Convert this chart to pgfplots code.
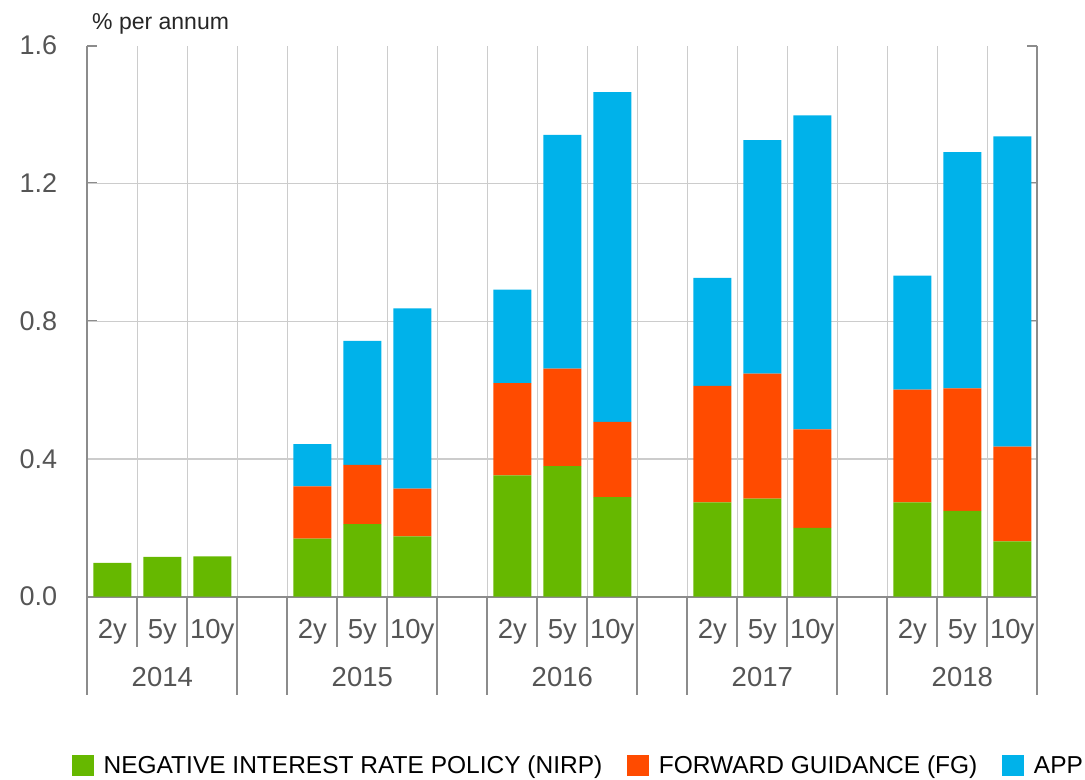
\documentclass[border=0pt]{standalone}
\usepackage{fontspec}
\setmainfont{Liberation Sans}
\usepackage{pgfplots}
\usepackage{pgfplotstable}
\pgfplotsset{compat=1.18}
\definecolor{nirp}{HTML}{66B800}
\definecolor{fg}{HTML}{FF4B00}
\definecolor{app}{HTML}{00B2EA}
\definecolor{axgray}{HTML}{8C8C8C}
\definecolor{gridgray}{HTML}{CCCCCC}
\definecolor{labgray}{HTML}{555555}

% x: slot position; nirp, fg, app: stacked contributions (% per annum)
\pgfplotstableread{
x  nirp  fg    app
0  0.098 0     0
1  0.116 0     0
2  0.117 0     0
4  0.169 0.151 0.123
5  0.211 0.172 0.360
6  0.175 0.139 0.523
8  0.352 0.268 0.272
9  0.379 0.283 0.679
10 0.289 0.219 0.957
12 0.274 0.338 0.314
13 0.285 0.363 0.678
14 0.200 0.286 0.912
16 0.274 0.327 0.331
17 0.249 0.356 0.686
18 0.161 0.275 0.901
}\data

\pgfplotsset{sqlegend/.style={legend image code/.code={\fill[##1] (0bp,-10.6bp) rectangle (21.6bp,10.6bp);}}}

\newcommand{\sep}[2]{\draw[axgray, line width=2bp] (axis cs:#1,0) -- ([yshift=-#2]axis cs:#1,0);}

\begin{document}
\begin{tikzpicture}
\useasboundingbox (0,0) rectangle (1085bp,780bp);
\begin{axis}[
  at={(87.3bp,183.3bp)}, anchor=south west,
  scale only axis, width=950bp, height=551bp,
  xmin=-0.5, xmax=18.5, ymin=0, ymax=1.6,
  enlargelimits=false, clip=false,
  axis line style={draw=none},
  ybar stacked, bar width=38bp,
  xtick={0,1,2,4,5,6,8,9,10,12,13,14,16,17,18},
  xticklabels={2y,5y,10y,2y,5y,10y,2y,5y,10y,2y,5y,10y,2y,5y,10y},
  xtick style={draw=none},
  x tick label style={font=\fontsize{27.5bp}{32bp}\selectfont, text=labgray, anchor=base, inner sep=0pt, yshift=-41.3bp},
  extra x ticks={-0.5,0.5,...,18.5},
  extra x tick labels={},
  extra x tick style={grid=major, major tick length=0pt},
  ytick={0,0.4,0.8,1.2,1.6},
  ytick pos=both,
  major tick length=10bp,
  ytick style={axgray, line width=2bp},
  yticklabel style={font=\fontsize{27bp}{32bp}\selectfont, text=labgray, anchor=east, inner sep=0pt, xshift=-30bp},
  /pgf/number format/.cd, fixed, fixed zerofill, precision=1, assume math mode=true, /pgfplots/.cd,
  extra y ticks={0.4,0.8,1.2},
  extra y tick labels={},
  extra y tick style={grid=major, major tick length=0pt},
  major grid style={gridgray, line width=1.3bp},
  legend columns=3,
  legend style={at={(axis description cs:-0.0161,-0.3063)}, anchor=west, draw=none, fill=none,
    inner sep=0pt, outer sep=0pt, column sep=10bp,
    font=\fontsize{24.5bp}{29bp}\selectfont,
    nodes={inner sep=0pt},
    /tikz/every even column/.append style={column sep=25bp}},
  legend cell align=left,
]
\addplot[fill=nirp, draw=none, sqlegend] table[x=x, y=nirp] {\data};
\addplot[fill=fg, draw=none, sqlegend] table[x=x, y=fg] {\data};
\addplot[fill=app, draw=none, sqlegend] table[x=x, y=app] {\data};
\legend{NEGATIVE INTEREST RATE POLICY (NIRP), FORWARD GUIDANCE (FG), APP}

% axis frame
\draw[axgray, line width=2.2bp] (axis cs:-0.5,1.6) -- (axis cs:-0.5,0) -- ([yshift=-98.3bp]axis cs:-0.5,0);
\draw[axgray, line width=2.2bp] (axis cs:18.5,1.6) -- (axis cs:18.5,0) -- ([yshift=-98.3bp]axis cs:18.5,0);
\draw[axgray, line width=2.2bp] (axis cs:-0.5,0) -- (axis cs:18.5,0);
% short separators
\sep{0.5}{50bp}\sep{1.5}{50bp}
\sep{4.5}{50bp}\sep{5.5}{50bp}
\sep{8.5}{50bp}\sep{9.5}{50bp}
\sep{12.5}{50bp}\sep{13.5}{50bp}
\sep{16.5}{50bp}\sep{17.5}{50bp}
% long separators
\sep{2.5}{98.3bp}\sep{3.5}{98.3bp}
\sep{6.5}{98.3bp}\sep{7.5}{98.3bp}
\sep{10.5}{98.3bp}\sep{11.5}{98.3bp}
\sep{14.5}{98.3bp}\sep{15.5}{98.3bp}
% year labels
\node[anchor=base, yshift=-90bp, font=\fontsize{27.5bp}{32bp}\selectfont, text=labgray, inner sep=0pt] at (axis cs:1,0) {2014};
\node[anchor=base, yshift=-90bp, font=\fontsize{27.5bp}{32bp}\selectfont, text=labgray, inner sep=0pt] at (axis cs:5,0) {2015};
\node[anchor=base, yshift=-90bp, font=\fontsize{27.5bp}{32bp}\selectfont, text=labgray, inner sep=0pt] at (axis cs:9,0) {2016};
\node[anchor=base, yshift=-90bp, font=\fontsize{27.5bp}{32bp}\selectfont, text=labgray, inner sep=0pt] at (axis cs:13,0) {2017};
\node[anchor=base, yshift=-90bp, font=\fontsize{27.5bp}{32bp}\selectfont, text=labgray, inner sep=0pt] at (axis cs:17,0) {2018};
% unit label
\node[anchor=base west, xshift=4.7bp, yshift=16.2bp, font=\fontsize{23bp}{27bp}\selectfont, text=black!85, inner sep=0pt] at (axis cs:-0.5,1.6) {\% per annum};
\end{axis}
\end{tikzpicture}
\end{document}
